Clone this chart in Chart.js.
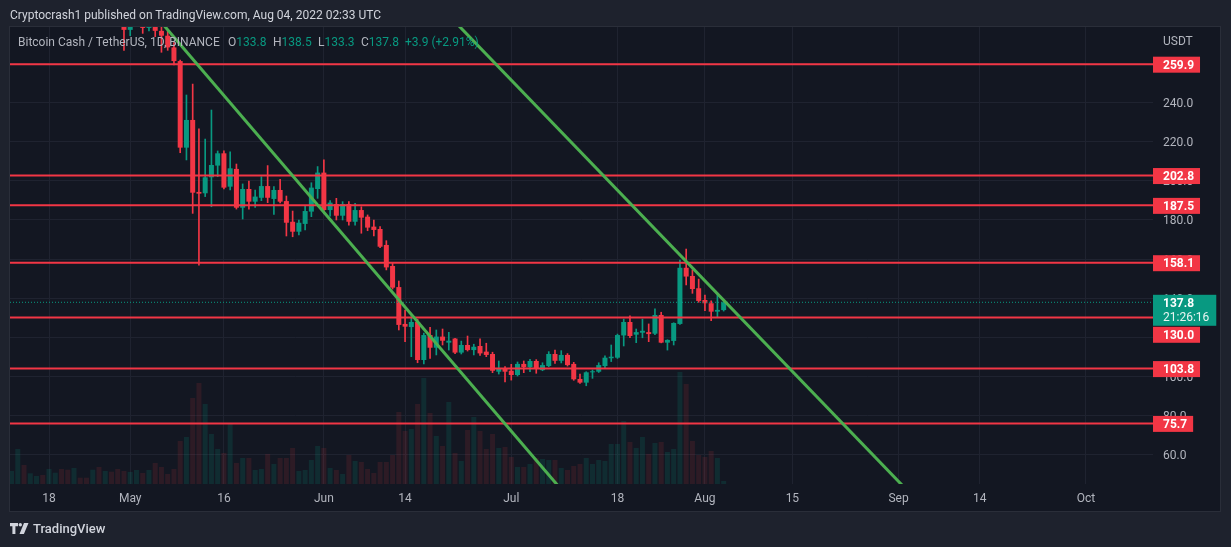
<!DOCTYPE html>
<html>
<head>
<meta charset="utf-8">
<script src="https://cdn.jsdelivr.net/npm/chart.js@4.4.0/dist/chart.umd.min.js"></script>
<style>
html,body{margin:0;padding:0;background:#1e222d;width:1231px;height:547px;overflow:hidden;}
#wrap{position:relative;width:1231px;height:547px;}
#c{position:absolute;left:0;top:0;}
.t{position:absolute;white-space:nowrap;font-family:Roboto,"Liberation Sans",sans-serif;font-size:12px;line-height:14px;}
.g{color:#089981;}
</style>
</head>
<body>
<div id="wrap">
<canvas id="c" width="1231" height="547"></canvas>
<div class="t" style="left:10px;top:8px;color:#d1d4dc;">Cryptocrash1 published on TradingView.com, Aug 04, 2022 02:33 UTC</div>
<div class="t" style="left:18px;top:35px;color:#b2b5be;">Bitcoin Cash / TetherUS, 1D, BINANCE</div>
<div class="t" id="lgO" style="left:228px;top:35px;color:#b2b5be;"></div>
<div class="t" id="lgH" style="left:273px;top:35px;color:#b2b5be;"></div>
<div class="t" id="lgL" style="left:318px;top:35px;color:#b2b5be;"></div>
<div class="t" id="lgC" style="left:361px;top:35px;color:#b2b5be;"></div>
<div class="t g" id="lgChg" style="left:405px;top:35px;"></div>
<div class="t" style="left:1163px;top:34px;color:#b2b5be;">USDT</div>
<div class="t" style="left:10px;top:521px;font-size:13px;line-height:15px;color:#d1d4dc;font-weight:500;">
<svg width="20" height="11" viewBox="0 0 20 11" style="vertical-align:-1px;margin-right:3px;"><path d="M0 0h8v3.2h-2.6v7.8h-3v-7.8h-2.4z" fill="#d1d4dc"/><circle cx="10.3" cy="1.7" r="1.7" fill="#d1d4dc"/><path d="M14 0h4.5l-4.6 11h-4.4z" fill="#d1d4dc"/></svg>TradingView</div>
</div>
<script>
// ---------- data ----------
const ORIGIN = '2022-04-18';          // day 0 of the time axis
const FIRST_CANDLE = '2022-04-12';    // date of first value in the arrays below
const OPEN  = [312,320,329,319,323,324,315,320,326,321,313,316,312,308,316,298,303,300,
  286,277.5,283,289,278.5,294,277,274.5,268.5,261.5,217.1,231.3,194.4,193.7,201.9,207.9,214.2,197.1,
  206.2,186.3,195.9,189.4,191.4,197.4,190.8,195.4,189.7,179.1,174,178,184.3,195.9,204.3,185.1,188.2,182.2,
  188.2,179.1,185.1,181.7,176.6,175.4,167.2,156.4,145.6,126.7,125.1,127.7,108.2,121,114.5,120.2,117.1,119.2,
  112,115.9,113.3,115.4,112.5,111.3,102.2,103.6,102.7,100.5,106.2,104.5,107.7,103,105.1,111.3,107.8,110.8,
  106.2,98.5,96.6,101.9,102.2,105.1,109.1,109.4,120.8,127.7,121.2,122.2,122.5,121.7,131.3,117.1,118,126.7,
  155.5,151.3,145,139,137.3,133,133.8];
const HIGH  = [325,334,332,326,327,326,322,328,332,336,320,318,315,318,319,306,309,302,
  292,287,292,291,296,300,279.5,277,271,262,244.1,249.7,226.7,221.5,236.4,215.4,215.5,215,
  208.7,198.5,200,195.4,202.2,207.9,197.1,200.9,192.3,184.6,180,187.2,199.1,207.4,210.8,189.9,191.1,189.4,
  189.4,188.5,186.8,182.6,180,176.6,169.4,157.8,148.7,133.8,130.4,129.1,122,125,123.6,124.1,122.4,119.3,
  117.9,120.5,116.3,119,116.8,112.2,107.7,104.8,106,107.2,107.7,108.5,108.4,106.8,112.5,113.3,113,111.5,
  107,101,102.2,103.1,106.8,110.3,115.9,121.5,129.2,130.8,124.1,129.2,126.7,134.4,132.7,118.6,127.3,159.5,
  165.1,154.4,149.7,141.5,138.5,142.4,138.5];
const LOW   = [306,316,316,317,319,313,302,318,318,309,306,310,306,296,296,294,297,284,
  267,274.5,280,275.7,277,274,266,267,259.5,214.5,210.8,183.4,156.9,192,186.8,202.2,196,195.4,
  185.6,180.5,185.6,186.5,189.9,188.9,182.9,188.7,171.8,171.4,172.3,174.9,181.7,191.1,183.4,182,180,180,
  177.4,177.4,173.2,174.5,171.8,165.8,154.4,144.6,123.6,117.6,109.9,106.8,106.2,109,110.8,115.9,113.3,111.5,
  111.3,112.8,110.8,110.5,109.9,101.7,101,97,97.9,100,101.7,102.2,101.4,102.7,104.8,106.5,106.7,105.1,
  97.8,96.2,95,98.8,101.8,104,107.4,109,115.4,119.6,117.1,119.6,117.6,121.2,117,113.3,115.9,126.5,
  146.7,142.4,137.8,133.5,128.4,130.1,133.3];
const CLOSE = [320,329,319,323,324,315,320,326,321,313,316,312,308,316,298,303,300,286,
  277.5,283,289,278.5,294,277,274.5,268.5,261.5,217.1,231.3,194,193.5,201.9,208.2,214.2,196.6,206.5,
  186.3,195.9,189.4,192,197.4,191.4,195.4,189.4,178.6,174,178.6,184.6,196.6,204.3,185.1,188.9,182.2,188.2,
  179.1,185.1,181.2,176.1,174.9,166.3,155.7,145.3,126.2,125.3,127.7,108.2,121,114.5,120.2,118.1,118.1,112,
  115.9,113.3,115,111.6,110.8,102.7,104,102.2,100.5,106.2,104.5,107.7,103.8,105.6,111.3,107.8,110.8,105.6,
  98.3,96.6,101.9,102.4,105.6,109.4,109.9,121,127.7,120.5,122.5,123.2,121.5,131.3,117.1,118.5,127.2,155.5,
  151,144.6,138.5,137.3,133,133.9,137.8];
const VOLUME = [13,35,19,10.7,8,9,15,11.3,15,14.3,16,6.3,6.3,14.3,17,13,12.3,15,
  13,12,14,11,14,21,17,10,15,43,47,86,101,80,50,35,31,61,
  21,26,26,14,15,30,20,26,26,36,13,14,24,38,36,16,14,10,
  29,23,22,15,11,22,22,29,72,53,55,80,106,71,48,38,82,31,
  23,54,67,53,35,50,36,37,27,17,17,20,26,25,24,24,16,14,
  18,20,26,20,24,23,40,40,63,42,36,47,30,41,42,32,35,112,
  100,43,29,27,33,26,3];
const LEVELS = [259.9, 202.8, 187.5, 158.1, 130.0, 103.8, 75.7];
const TREND_A = [['2022-05-05', 285.0], ['2022-07-09', 41.8]];
const TREND_B = [['2022-06-17', 298.2], ['2022-09-05', 32.65]];
const TICK_DATES  = ['2022-04-18','2022-05-01','2022-05-16','2022-06-01','2022-06-14','2022-07-01',
                     '2022-07-18','2022-08-01','2022-08-15','2022-09-01','2022-09-14','2022-10-01'];
const TICK_LABELS = ['18','May','16','Jun','14','Jul','18','Aug','15','Sep','14','Oct'];
const Y_TICKS = [60,80,100,120,140,160,180,200,220,240,260];
const COUNTDOWN = '21:26:16';

// ---------- derived ----------
const dayOf = s => Math.round((Date.parse(s + 'T00:00:00Z') - Date.parse(ORIGIN + 'T00:00:00Z')) / 864e5);
const d0 = dayOf(FIRST_CANDLE);
const xs = OPEN.map((_, i) => d0 + i);
const UP = '#089981', DOWN = '#f23645';
const isUp = OPEN.map((o, i) => CLOSE[i] >= o);
const tickDays = TICK_DATES.map(dayOf);
const last = OPEN.length - 1;
const lastClose = CLOSE[last];

// legend
const fmt = v => v.toFixed(1);
document.getElementById('lgO').innerHTML = 'O<span class="g">' + fmt(OPEN[last]) + '</span>';
document.getElementById('lgH').innerHTML = 'H<span class="g">' + fmt(HIGH[last]) + '</span>';
document.getElementById('lgL').innerHTML = 'L<span class="g">' + fmt(LOW[last]) + '</span>';
document.getElementById('lgC').innerHTML = 'C<span class="g">' + fmt(CLOSE[last]) + '</span>';
const chg = CLOSE[last] - CLOSE[last - 1];
document.getElementById('lgChg').textContent = (chg >= 0 ? '+' : '') + chg.toFixed(1) + ' (' + (chg >= 0 ? '+' : '') + (chg / CLOSE[last - 1] * 100).toFixed(2) + '%)';

const X_MIN = -6.245, X_MAX = 176.73;
const levelSets = LEVELS.map(v => ({
  type: 'line', data: [{x: X_MIN, y: v}, {x: X_MAX, y: v}], yAxisID: 'y',
  borderColor: '#f23645', borderWidth: 2, pointRadius: 0, order: 3, clip: 0
}));
const trend = (t) => ({
  type: 'line', data: t.map(p => ({x: dayOf(p[0]), y: p[1]})), yAxisID: 'y',
  borderColor: '#4caf50', borderWidth: 3, pointRadius: 0, order: 1, clip: 0
});

const bgPlugin = {
  id: 'bg',
  beforeDraw(chart) {
    const ctx = chart.ctx;
    ctx.save();
    ctx.fillStyle = '#1e222d';
    ctx.fillRect(0, 0, chart.width, chart.height);
    ctx.fillStyle = '#131722';
    ctx.fillRect(10, 27, 1210, 484);
    ctx.strokeStyle = '#2a2e39';
    ctx.lineWidth = 1;
    ctx.strokeRect(9.5, 26.5, 1211, 485);
    ctx.restore();
  }
};

const labelPlugin = {
  id: 'labels',
  afterDraw(chart) {
    const ctx = chart.ctx, area = chart.chartArea, y = chart.scales.y;
    ctx.save();
    const left = area.right;
    // current price box
    const cy = y.getPixelForValue(lastClose);
    ctx.font = '12px Roboto, "Liberation Sans", sans-serif';
    const w2 = ctx.measureText(COUNTDOWN).width;
    const cur = {top: cy - 7.5, bottom: cy + 23.5};
    ctx.fillStyle = UP;
    ctx.fillRect(left, cur.top, 10 + w2 + 7, cur.bottom - cur.top);
    ctx.textBaseline = 'middle';
    ctx.textAlign = 'left';
    ctx.fillStyle = '#ffffff';
    ctx.font = 'bold 12px Roboto, "Liberation Sans", sans-serif';
    ctx.fillText(fmt(lastClose), left + 10, cy + 1.5);
    ctx.font = '12px Roboto, "Liberation Sans", sans-serif';
    ctx.fillStyle = '#e8f5f2';
    ctx.fillText(COUNTDOWN, left + 10, cy + 16);
    // level boxes
    ctx.font = 'bold 12px Roboto, "Liberation Sans", sans-serif';
    LEVELS.forEach(v => {
      const py = y.getPixelForValue(v);
      let top = py - 7.5;
      if (top < cur.bottom && top + 16 > cur.top) {
        top = py >= cy ? cur.bottom + 1 : cur.top - 17;
      }
      const tw = ctx.measureText(fmt(v)).width;
      ctx.fillStyle = '#f23645';
      ctx.fillRect(left, top, 10 + tw + 6, 16);
      ctx.fillStyle = '#ffffff';
      ctx.fillText(fmt(v), left + 10, top + 9);
    });
    ctx.restore();
  }
};

new Chart(document.getElementById('c'), {
  type: 'bar',
  data: {
    datasets: [
      { label: 'Volume', data: xs.map((x, i) => ({x, y: VOLUME[i]})), yAxisID: 'yv',
        backgroundColor: isUp.map(u => u ? 'rgba(8,153,129,0.16)' : 'rgba(242,54,69,0.12)'),
        barPercentage: 0.8, categoryPercentage: 1, grouped: false, order: 10 },
      { label: 'Wick', data: xs.map((x, i) => ({x, y: [LOW[i], HIGH[i]]})), yAxisID: 'y',
        backgroundColor: isUp.map(u => u ? UP : DOWN), barThickness: 1, grouped: false, order: 6 },
      { label: 'Body', data: xs.map((x, i) => ({x, y: [Math.min(OPEN[i], CLOSE[i]), Math.max(OPEN[i], CLOSE[i])]})), yAxisID: 'y',
        backgroundColor: isUp.map(u => u ? UP : DOWN), barPercentage: 0.8, categoryPercentage: 1,
        minBarLength: 1, grouped: false, order: 5 },
      ...levelSets,
      { type: 'line', data: [{x: X_MIN, y: lastClose}, {x: X_MAX, y: lastClose}], yAxisID: 'y',
        borderColor: UP, borderWidth: 1, borderDash: [1, 2], pointRadius: 0, order: 2, clip: 0 },
      trend(TREND_A),
      trend(TREND_B)
    ]
  },
  options: {
    responsive: false,
    animation: false,
    devicePixelRatio: 1,
    layout: { padding: { left: 10, top: 27, right: 11, bottom: 37 } },
    plugins: { legend: { display: false }, tooltip: { enabled: false } },
    scales: {
      x: {
        type: 'linear', min: X_MIN, max: X_MAX, offset: false, position: 'bottom',
        grid: { color: '#1f2330', drawTicks: false, offset: false },
        border: { display: false },
        afterBuildTicks: s => { s.ticks = tickDays.map(v => ({value: v})); },
        afterFit: s => { s.height = 26; },
        ticks: {
          autoSkip: false, maxRotation: 0, padding: 8, color: '#b2b5be',
          font: { family: 'Roboto, "Liberation Sans", sans-serif', size: 12 },
          callback: v => { const k = tickDays.indexOf(v); return k >= 0 ? TICK_LABELS[k] : ''; }
        }
      },
      y: {
        type: 'linear', position: 'right', min: 44.62, max: 278.97,
        grid: { color: '#1f2330', drawTicks: false },
        border: { display: false },
        afterBuildTicks: s => { s.ticks = Y_TICKS.map(v => ({value: v})); },
        afterFit: s => { s.width = 67; },
        ticks: {
          padding: 10, color: '#b2b5be', labelOffset: 1.5,
          font: { family: 'Roboto, "Liberation Sans", sans-serif', size: 12 },
          callback: v => v.toFixed(1)
        }
      },
      yv: { type: 'linear', display: false, min: 0, max: 457 }
    }
  },
  plugins: [bgPlugin, labelPlugin]
});
</script>
</body>
</html>
